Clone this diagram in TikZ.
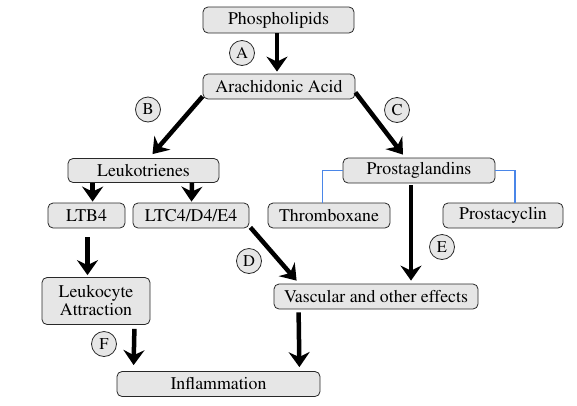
\documentclass[tikz,border=0pt]{standalone}
\usepackage[T1]{fontenc}
\renewcommand{\rmdefault}{ptm}
\usetikzlibrary{arrows.meta,calc}
\definecolor{boxfill}{RGB}{230,230,230}
\definecolor{boxline}{RGB}{40,40,40}
\definecolor{linkblue}{RGB}{74,134,232}
\begin{document}
\begin{tikzpicture}[x=1pt,y=-1pt,
  box/.style={draw=boxline, fill=boxfill, rounded corners=5pt, line width=0.8pt, inner sep=0pt, font=\rmfamily\fontsize{17.8}{20}\selectfont},
  tag/.style={circle, draw=boxline, fill=boxfill, line width=0.8pt, minimum size=25pt, inner sep=0pt, font=\rmfamily\fontsize{16.5}{18}\selectfont},
  flow/.style={line width=4.5pt, -{Stealth[length=15pt,width=21pt,inset=5pt]}},
  link/.style={draw=linkblue, line width=1.5pt}]
\useasboundingbox (0,0) rectangle (577,405);

% boxes
\node[box, minimum width=151pt, minimum height=26pt] (phos)    at (278.5,20)  {Phospholipids};
\node[box, minimum width=152pt, minimum height=25pt] (arach)   at (279,86.5)  {Arachidonic Acid};
\node[box, minimum width=151pt, minimum height=24pt] (leuk)    at (143.5,170.5) {Leukotrienes};
\node[box, minimum width=152pt, minimum height=25pt] (prost)   at (419,170.5) {Prostaglandins};
\node[box, minimum width=77pt,  minimum height=25pt] (ltb)     at (86.5,215.5) {LTB4};
\node[box, minimum width=116pt, minimum height=25pt] (ltc)     at (191,215.5) {LTC4/D4/E4};
\node[box, minimum width=122pt, minimum height=25pt] (thromb)  at (329,215.5) {Thromboxane};
\node[box, minimum width=120pt, minimum height=25pt] (prostac) at (503,215.5) {Prostacyclin};
\node[box, minimum width=108pt, minimum height=47pt, align=center] (leukat) at (96,301) {Leukocyte\\[-2pt]Attraction};
\node[box, minimum width=204pt, minimum height=25pt] (vasc)    at (376,296.5) {Vascular and other effects};
\node[box, minimum width=203pt, minimum height=25pt] (inflam)  at (218.5,384) {Inflammation};

% blue links
\draw[link] (prost.west) -| ($(thromb.north)+(-6.5,0)$);
\draw[link] (prost.east) -| ($(prostac.north)+(12,0)$);

% letter tags
\node[tag] (tA) at (242,53)    {A};
\node[tag] (tB) at (148,109.5) {B};
\node[tag] (tC) at (397,110)   {C};
\node[tag] (tD) at (249,261)   {D};
\node[tag] (tE) at (442,247)   {E};
\node[tag] (tF) at (104,344)   {F};

% arrows
\draw[flow] ($(phos.south)+(-1.5,0)$) -- ($(arach.north)+(-2,-2)$);
\draw[flow] ($(arach.south west)+(0,-3)$) -- ($(leuk.north)+(9,-4)$);
\draw[flow] ($(arach.south east)+(0,-7)$) -- ($(prost.north)+(-16,-3)$);
\draw[flow] ($(leuk.south west)+(25,0)$) -- ($(ltb.north west)+(45,-1)$);
\draw[flow] ($(leuk.south east)+(-27.5,0)$) -- ($(ltc.north)+(0.5,-1)$);
\draw[flow] ($(ltb.south)+(1,9)$) -- ($(leukat.north)+(-8.5,-2)$);
\draw[flow] ($(leukat.south east)+(-16,4)$) -- ($(inflam.north west)+(17,-6)$);
\draw[flow] ($(ltc.south east)+(1,-1)$) -- ($(vasc.north west)+(23,-3)$);
\draw[flow] ($(prost.south)+(-8,2)$) -- ($(vasc.north)+(35,-3)$);
\draw[flow] ($(vasc.south west)+(25,3)$) -- ($(inflam.north east)+(-21,-4)$);
\end{tikzpicture}
\end{document}
